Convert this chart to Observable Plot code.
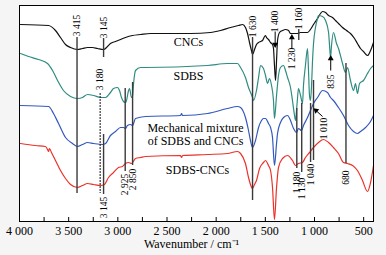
<!DOCTYPE html>
<html><head><meta charset="utf-8">
<script src="https://cdn.jsdelivr.net/npm/d3@7"></script>
<script src="https://cdn.jsdelivr.net/npm/@observablehq/plot@0.6"></script>
<style>
html,body{margin:0;padding:0;background:#f5f5f5;}
#chart svg{display:block;}
</style></head><body><div id="chart"></div>
<script>
// FTIR spectra: [wavenumber (cm-1), transmittance (a.u., offset)]
const cncs = [[3990,197],[3705,196],[3634,191],[3583,184],[3532,177],[3481,174],[3410,172],[3359,173],[3308,174],[3258,174],[3207,173],[3146,172],[3105,175],[3075,178],[3024,180],[2973,182],[2922,184],[2851,186],[2769,187],[2668,188],[2261,188],[2058,189],[1956,191],[1854,194],[1772,196],[1732,197],[1702,194],[1681,188],[1661,179],[1641,171],[1630,167],[1610,172],[1590,177],[1569,179],[1549,180],[1529,181],[1508,185],[1498,186],[1488,184],[1468,182],[1447,179],[1427,177],[1417,173],[1407,156],[1396,141],[1386,161],[1376,181],[1356,189],[1325,191],[1295,192],[1264,191],[1244,188],[1203,188],[1173,188],[1142,189],[1101,189],[1071,189],[1041,192],[1010,197],[969,203],[939,208],[918,210],[888,209],[857,206],[817,204],[786,201],[756,198],[715,194],[674,191],[634,188],[593,183],[563,178],[532,173],[502,170],[461,166],[430,171],[400,179]];
const sdbs = [[3990,168],[3908,165],[3807,162],[3715,158],[3664,151],[3613,141],[3553,131],[3481,125],[3410,123],[3359,124],[3308,127],[3247,126],[3176,124],[3125,124],[3075,129],[3044,133],[3003,134],[2983,131],[2963,124],[2942,120],[2922,119],[2912,121],[2891,131],[2881,133],[2861,124],[2851,125],[2841,137],[2820,151],[2769,154],[2719,154],[2088,156],[1885,158],[1783,158],[1752,154],[1702,144],[1671,134],[1630,124],[1620,121],[1590,131],[1569,144],[1549,156],[1519,153],[1498,146],[1478,138],[1458,143],[1437,136],[1417,121],[1407,103],[1386,126],[1366,146],[1346,154],[1315,156],[1295,151],[1274,144],[1244,134],[1224,121],[1203,106],[1193,101],[1183,111],[1173,123],[1163,133],[1142,126],[1122,118],[1112,136],[1092,156],[1071,173],[1061,151],[1051,126],[1041,121],[1030,136],[1020,161],[1010,178],[990,194],[969,203],[959,206],[918,205],[888,201],[857,189],[847,176],[837,164],[827,176],[807,189],[776,178],[756,173],[715,158],[685,149],[664,154],[634,141],[603,131],[583,138],[563,128],[542,138],[502,141],[461,148],[430,153],[400,156]];
const mixture = [[3990,116],[3705,115],[3654,108],[3603,98],[3532,84],[3461,78],[3410,75],[3359,77],[3308,79],[3247,78],[3156,77],[3125,78],[3075,86],[3024,90],[2973,94],[2942,94],[2922,93],[2902,96],[2871,97],[2851,96],[2820,103],[2719,105],[2363,106],[2352,108],[2342,106],[2088,108],[1885,113],[1783,115],[1752,114],[1702,104],[1671,91],[1651,81],[1630,74],[1600,81],[1569,94],[1539,101],[1519,103],[1498,103],[1468,98],[1447,94],[1427,84],[1407,56],[1386,78],[1376,88],[1346,99],[1315,104],[1274,106],[1244,101],[1213,93],[1183,89],[1163,93],[1132,91],[1112,96],[1071,104],[1041,111],[1010,118],[969,124],[918,131],[868,129],[837,124],[807,121],[756,114],[705,106],[654,96],[603,90],[563,88],[532,90],[481,94],[430,100],[400,106]];
const sdbsCncs = [[3990,78],[3837,76],[3736,75],[3715,72],[3705,70],[3695,73],[3675,69],[3634,61],[3583,51],[3532,43],[3481,37],[3410,34],[3359,36],[3308,38],[3247,37],[3176,36],[3136,37],[3095,44],[3044,49],[2993,54],[2953,55],[2922,58],[2891,59],[2861,58],[2820,63],[2769,64],[2719,65],[2363,66],[2352,64],[2342,66],[2088,67],[1885,68],[1783,70],[1752,68],[1702,58],[1671,44],[1651,37],[1630,33],[1610,37],[1590,41],[1559,53],[1519,59],[1498,61],[1468,56],[1447,51],[1427,34],[1407,2],[1386,34],[1366,54],[1325,63],[1274,66],[1224,61],[1193,56],[1163,58],[1122,59],[1092,64],[1051,69],[1010,74],[959,79],[908,82],[857,79],[807,74],[756,68],[705,59],[664,58],[613,56],[563,51],[512,41],[461,30],[430,39],[400,56]];

const seriesData = [cncs, sdbs, mixture, sdbsCncs];
const seriesColors = ["#111111", "#2f8c82", "#3459be", "#ea3229"];

// curve names
const curveLabels = [
  {text: "CNCs", w: 2281, v: 179},
  {text: "SDBS", w: 2281, v: 145},
  {text: "Mechanical mixture", w: 2210, v: 93},
  {text: "of SDBS and CNCs", w: 2210, v: 80},
  {text: "SDBS-CNCs", w: 2190, v: 51}
];

// band marker lines
const bandLines = [
  {w: 3415, v1: 184, v2: 28, dashed: false},
  {w: 3145, v1: 183, v2: 164, dashed: false},
  {w: 3180, v1: 128, v2: 28, dashed: true},
  {w: 3145, v1: 87, v2: 27, dashed: false},
  {w: 2925, v1: 133, v2: 50, dashed: false},
  {w: 2850, v1: 139, v2: 56, dashed: false},
  {w: 1630, v1: 184, v2: 21, dashed: false},
  {w: 1160, v1: 192, v2: 181, dashed: false},
  {w: 1180, v1: 113, v2: 53, dashed: false},
  {w: 1130, v1: 118, v2: 49, dashed: false},
  {w: 1040, v1: 118, v2: 59, dashed: false},
  {w: 1010, v1: 141, v2: 61, dashed: false},
  {w: 680, v1: 158, v2: 58, dashed: false}
];

// band labels
const bandLabels = [
  {text: "3 415", w: 3415, v: 196},
  {text: "3 145", w: 3145, v: 194},
  {text: "3 180", w: 3180, v: 142},
  {text: "3 145", w: 3145, v: 14},
  {text: "2 925", w: 2925, v: 37},
  {text: "2 850", w: 2850, v: 42},
  {text: "1 630", w: 1630, v: 195},
  {text: "1 400", w: 1400, v: 200},
  {text: "1 160", w: 1160, v: 203},
  {text: "1 230", w: 1230, v: 163},
  {text: "835", w: 835, v: 140},
  {text: "1 010", w: 908, v: 93},
  {text: "1 180", w: 1180, v: 39},
  {text: "1 130", w: 1130, v: 33},
  {text: "1 040", w: 1040, v: 47},
  {text: "680", w: 680, v: 44}
];

// arrows: tail (w1,v1) -> head (w2,v2), head rotation in degrees
const bandArrows = [
  {w1: 1400, v1: 190, w2: 1400, v2: 177, rot: 180},
  {w1: 1230, v1: 173, w2: 1230, v2: 184, rot: 0},
  {w1: 835, v1: 151, w2: 835, v2: 163, rot: 0},
  {w1: 918, v1: 105, w2: 985, v2: 111, rot: -50}
];

const xTicks = [4000,3750,3500,3250,3000,2750,2500,2250,2000,1750,1500,1250,1000,750,500];
const fmt = d => d % 500 !== 0 ? "" : (d >= 1000 ? Math.floor(d/1000) + " " + String(d % 1000).padStart(3, "0") : String(d));

const serif = "Liberation Serif, Times New Roman, serif";

const chart = Plot.plot({
  width: 386,
  height: 255,
  marginLeft: 19,
  marginRight: 13,
  marginTop: 5,
  marginBottom: 34,
  style: {fontFamily: serif, fontSize: "12px", background: "transparent", overflow: "visible"},
  x: {domain: [4000, 400], label: null},
  y: {domain: [0, 216], axis: null},
  marks: [
    Plot.frame({fill: "white", stroke: null}),
    ...seriesData.map((s, i) => Plot.line(s, {x: d => d[0], y: d => d[1], stroke: seriesColors[i], strokeWidth: 1.2, curve: "monotone-x"})),
    Plot.ruleX(bandLines.filter(d => !d.dashed), {x: "w", y1: "v1", y2: "v2", stroke: "#3a3a3a", strokeWidth: 1.4}),
    Plot.ruleX(bandLines.filter(d => d.dashed), {x: "w", y1: "v1", y2: "v2", stroke: "#111", strokeWidth: 1, strokeDasharray: "2,1"}),
    Plot.link(bandArrows, {x1: "w1", y1: "v1", x2: "w2", y2: "v2", stroke: "#000", strokeWidth: 1}),
    Plot.dot(bandArrows, {x: "w2", y: "v2", symbol: "triangle", r: 2.2, fill: "#000", stroke: null, rotate: "rot"}),
    Plot.text(bandLabels, {x: "w", y: "v", text: "text", rotate: -90, fontSize: 9.5, fill: "#000", fontFamily: serif}),
    Plot.text(curveLabels, {x: "w", y: "v", text: "text", fontSize: 12, fill: "#000", fontFamily: serif}),
    Plot.axisX({ticks: xTicks, tickSize: -4, tickPadding: 9, tickFormat: fmt, fontSize: 12, fontFamily: serif, stroke: "#000"}),
    Plot.text(["Wavenumber / cm\u207B\u00B9"], {frameAnchor: "bottom", text: d => d, dy: 26, dx: -5, fontSize: 12, fontFamily: serif, fill: "#000"}),
    Plot.frame({stroke: "#000", strokeWidth: 1})
  ]
});
document.getElementById("chart").append(chart);
</script>
</body></html>
